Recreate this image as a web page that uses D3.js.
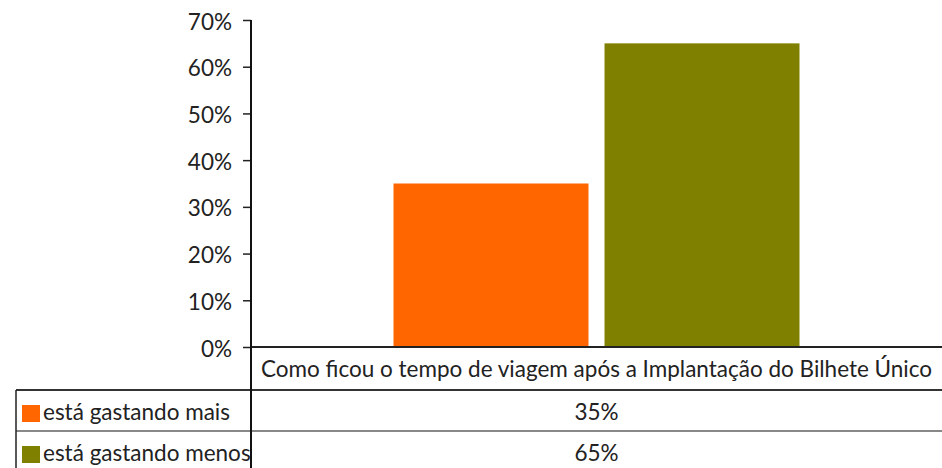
<!DOCTYPE html>
<html>
<head>
<meta charset="utf-8">
<script src="https://cdn.jsdelivr.net/npm/d3@7"></script>
<style>
  body { margin: 0; background: #fff; }
  svg { display: block; font-family: Lato, "Open Sans", sans-serif; }
</style>
</head>
<body>
<script>
// data
var category = ["Como ficou o tempo de viagem após a Implantação do Bilhete Único"];
var series = ["está gastando mais", "está gastando menos"];
var values = [0.35, 0.65];
var colors = ["#ff6600", "#808000"];
var yTicks = [0, 0.1, 0.2, 0.3, 0.4, 0.5, 0.6, 0.7];

var width = 942, height = 468;
var margin = {top: 20, right: 0, left: 251, bottom: 121};
var rowH = [43, 41, 41];
var tableLeft = 16;
var fontSize = "22.5px";

var svg = d3.select("body").append("svg")
    .attr("width", width)
    .attr("height", height);

var y = d3.scaleLinear()
    .domain([0, 0.7])
    .range([height - margin.bottom, margin.top]);

var x0 = d3.scaleBand()
    .domain(category)
    .range([margin.left, width - margin.right])
    .paddingOuter(0.351)
    .paddingInner(0);

var x1 = d3.scaleBand()
    .domain(series)
    .range([0, x0.bandwidth()])
    .paddingInner(0.076);

var color = d3.scaleOrdinal().domain(series).range(colors);

// bars
svg.append("g")
  .selectAll("rect")
  .data(series.map((s, i) => ({s: s, v: values[i]})))
  .join("rect")
    .attr("x", d => x0(category[0]) + x1(d.s))
    .attr("y", d => y(d.v))
    .attr("width", x1.bandwidth())
    .attr("height", d => y(0) - y(d.v))
    .attr("fill", d => color(d.s));

// y axis
var gy = svg.append("g")
    .attr("transform", `translate(${margin.left},0)`)
    .call(d3.axisLeft(y).tickValues(yTicks).tickFormat(d3.format(".0%")).tickSize(8).tickPadding(11));
gy.select(".domain").remove();
gy.selectAll(".tick line").attr("stroke", "#222").attr("stroke-width", 1.5);
gy.selectAll(".tick text")
    .attr("fill", "#222")
    .attr("dy", "0.4em")
    .style("font-size", fontSize)
    .style("font-family", "Lato, sans-serif");

// table
var y0 = y(0);
var rows = [y0, y0 + rowH[0], y0 + rowH[0] + rowH[1], y0 + rowH[0] + rowH[1] + rowH[2]];
var midX = x0(category[0]) + x0.bandwidth() / 2;

svg.append("line")
    .attr("x1", margin.left).attr("x2", width)
    .attr("y1", rows[0]).attr("y2", rows[0])
    .attr("stroke", "#222").attr("stroke-width", 2);
svg.append("line")
    .attr("x1", tableLeft).attr("x2", width)
    .attr("y1", rows[1]).attr("y2", rows[1])
    .attr("stroke", "#333").attr("stroke-width", 2);
svg.append("line")
    .attr("x1", tableLeft).attr("x2", width)
    .attr("y1", rows[2]).attr("y2", rows[2])
    .attr("stroke", "#888").attr("stroke-width", 2);

// verticals
svg.append("line")
    .attr("x1", margin.left).attr("x2", margin.left)
    .attr("y1", margin.top).attr("y2", height)
    .attr("stroke", "#111").attr("stroke-width", 2);
svg.append("line")
    .attr("x1", tableLeft).attr("x2", tableLeft)
    .attr("y1", rows[1]).attr("y2", height)
    .attr("stroke", "#222").attr("stroke-width", 1.5);

var txt = g => g.attr("fill", "#222").style("font-size", fontSize);

svg.append("text")
    .attr("x", midX).attr("y", rows[0] + 30)
    .attr("text-anchor", "middle")
    .text(category[0])
    .call(txt);

series.forEach(function(s, i) {
  var top = rows[i + 1];
  svg.append("rect")
      .attr("x", 22).attr("y", top + 15)
      .attr("width", 18).attr("height", 17)
      .attr("fill", colors[i]);
  svg.append("text")
      .attr("x", 43).attr("y", top + 30)
      .text(s)
      .call(txt);
  svg.append("text")
      .attr("x", midX).attr("y", top + 30)
      .attr("text-anchor", "middle")
      .text(d3.format(".0%")(values[i]))
      .call(txt);
});
</script>
</body>
</html>
